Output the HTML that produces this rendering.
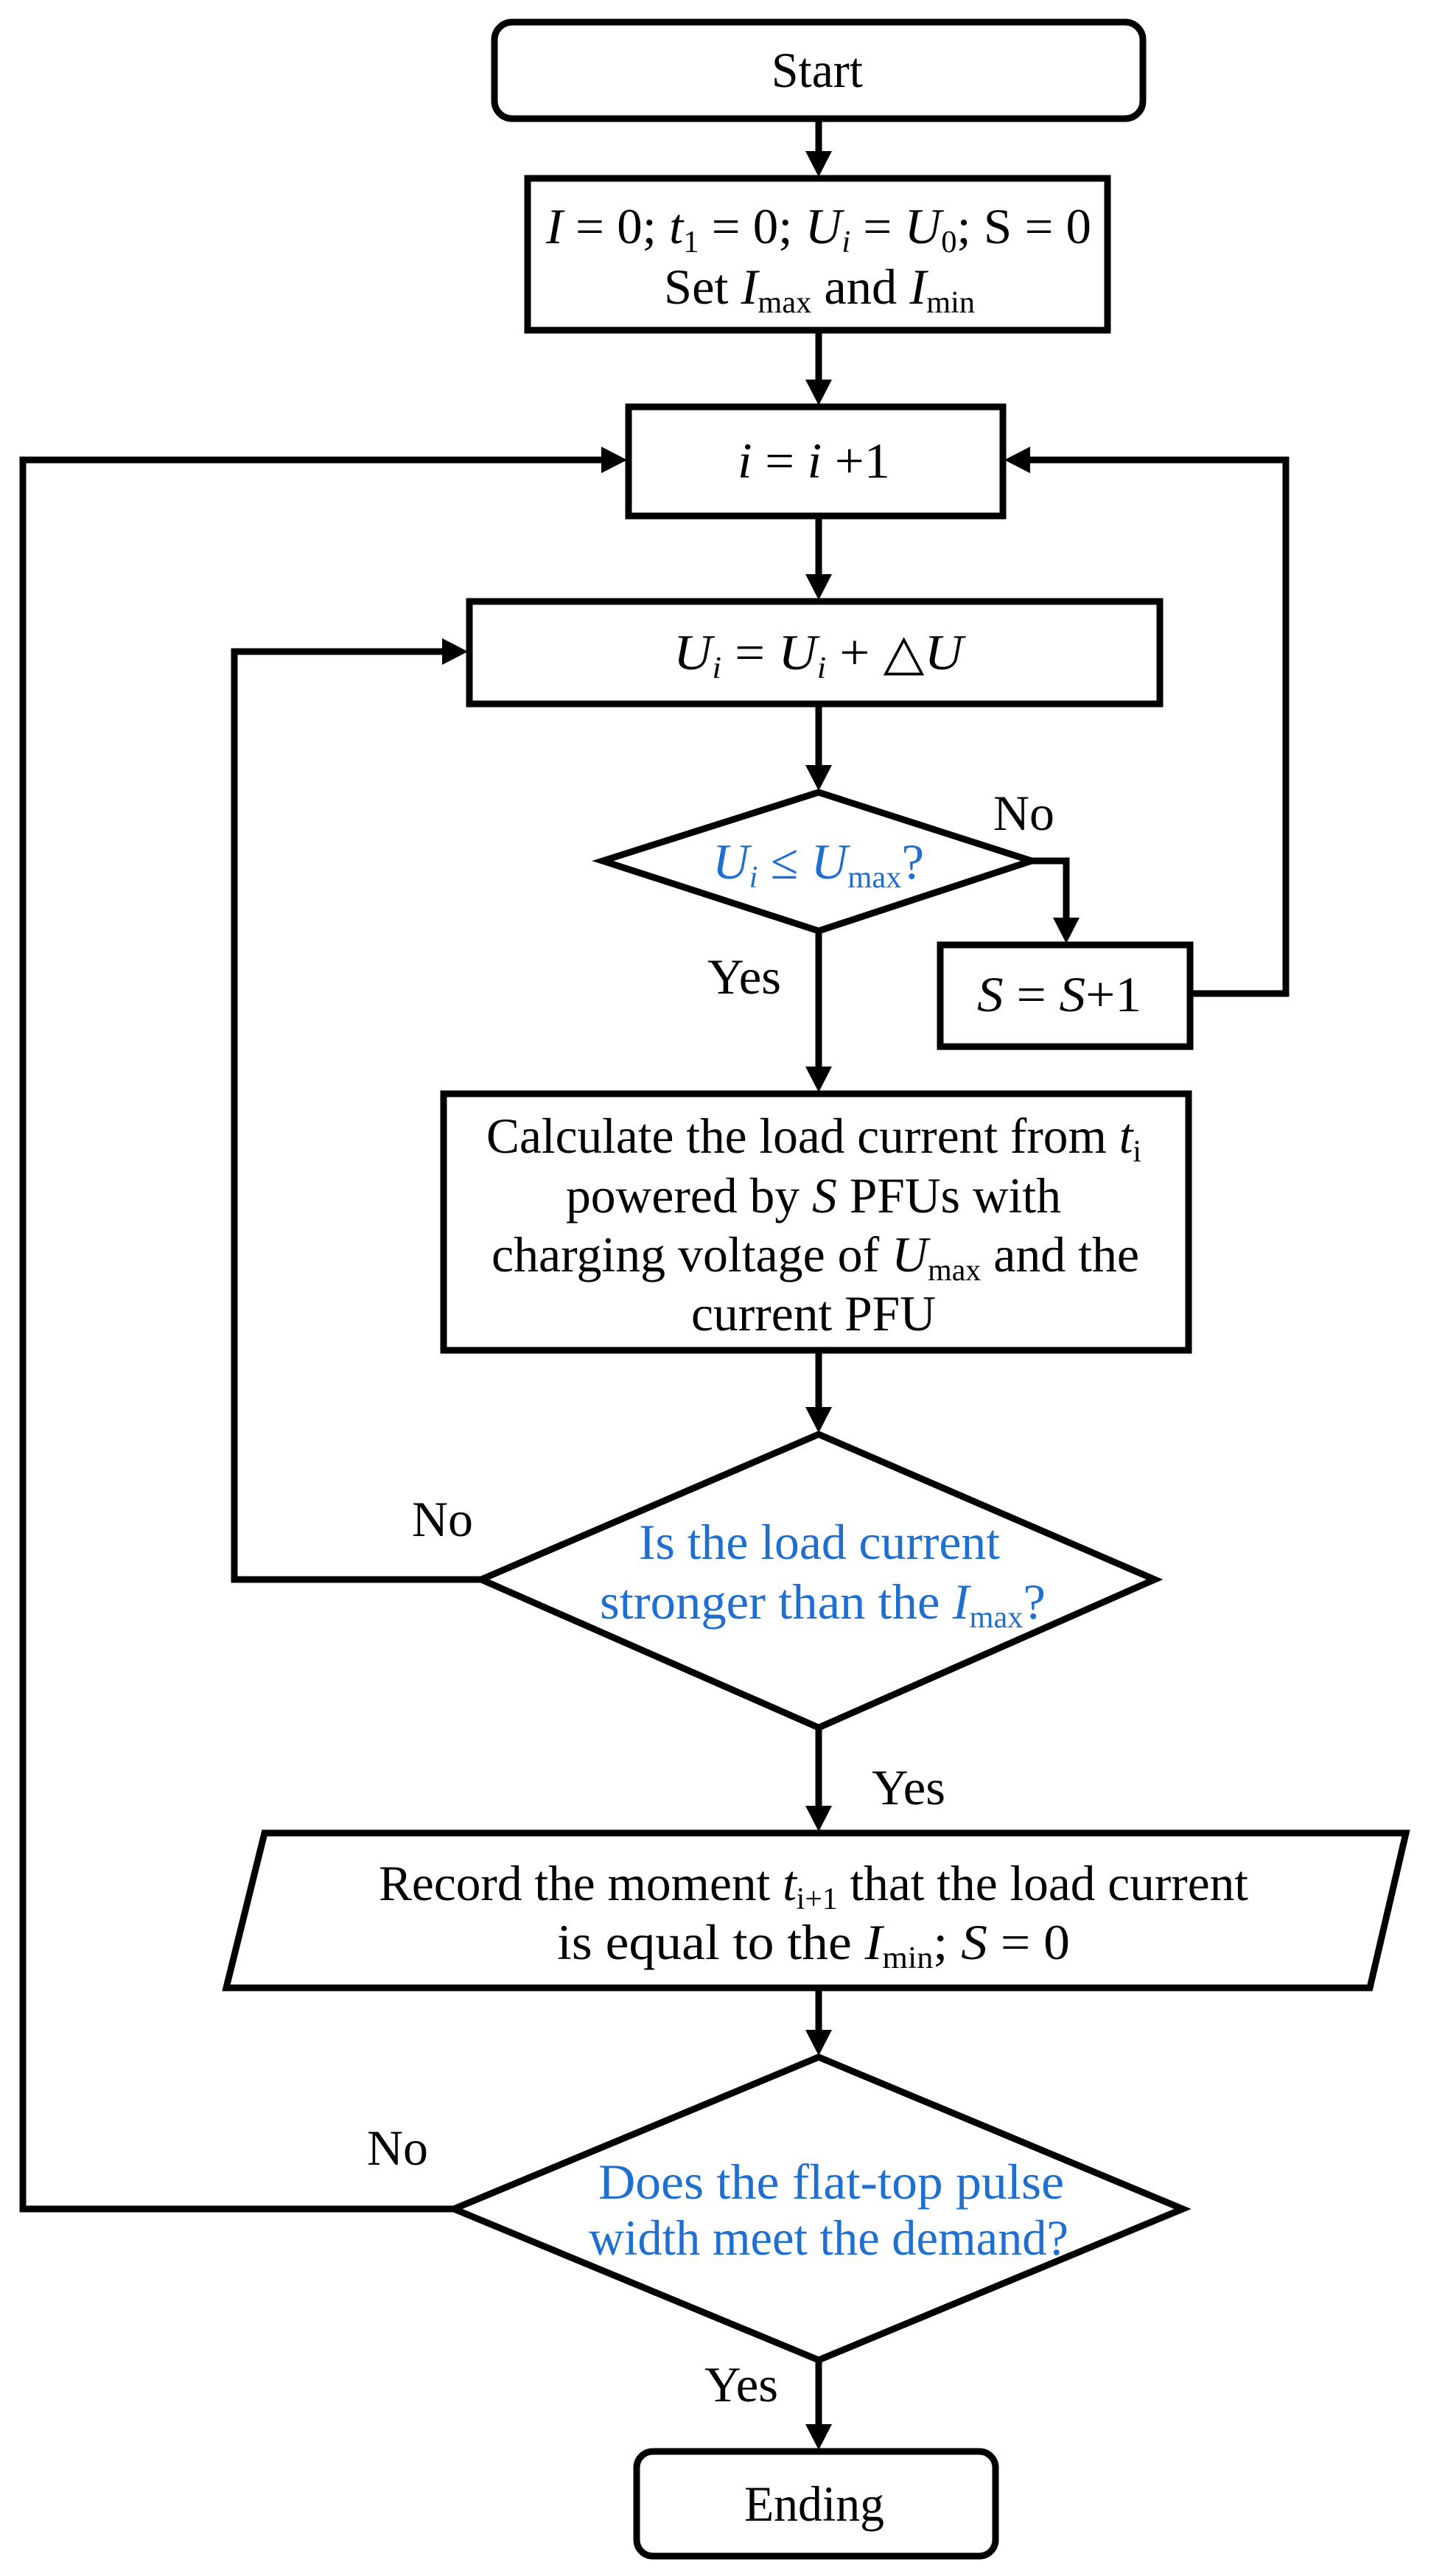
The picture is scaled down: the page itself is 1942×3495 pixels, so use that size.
<!DOCTYPE html>
<html><head><meta charset="utf-8"><style>
html,body{margin:0;padding:0;background:#fff;}
svg{display:block;}
text{font-family:"Liberation Serif","Times New Roman",serif;font-size:68px;fill:#000;}
.b{fill:#1f6fd0;}
.i{font-style:italic;}
</style></head><body>
<svg width="1942" height="3495" viewBox="0 0 1942 3495" xmlns="http://www.w3.org/2000/svg">
<g fill="none" stroke="#000" stroke-width="9" stroke-linejoin="miter">
<rect x="671" y="30" width="880" height="131" rx="24"/>
<rect x="716" y="242" width="787" height="206"/>
<rect x="853" y="552" width="508" height="148"/>
<rect x="637" y="816" width="937" height="139"/>
<polygon points="1111,1075 1400,1168 1111,1263 818,1168"/>
<rect x="1276" y="1282" width="339" height="138"/>
<rect x="602" y="1484" width="1011" height="348"/>
<polygon points="1111,1946 1567,2143 1111,2344 653,2143"/>
<polygon points="359,2487 1908,2487 1859,2697 307,2697"/>
<polygon points="1111,2791 1605,2997 1111,3202 616,2997"/>
<rect x="864" y="3326" width="487" height="142" rx="22"/>
<line x1="1111" y1="161" x2="1111" y2="210"/>
<line x1="1111" y1="448" x2="1111" y2="520"/>
<line x1="1111" y1="700" x2="1111" y2="784"/>
<line x1="1111" y1="955" x2="1111" y2="1043"/>
<polyline points="1400,1168 1447,1168 1447,1250"/>
<polyline points="1615,1348 1745,1348 1745,624 1395,624"/>
<line x1="1111" y1="1263" x2="1111" y2="1452"/>
<line x1="1111" y1="1832" x2="1111" y2="1914"/>
<polyline points="653,2143 318,2143 318,884 605,884"/>
<line x1="1111" y1="2344" x2="1111" y2="2455"/>
<line x1="1111" y1="2697" x2="1111" y2="2759"/>
<polyline points="616,2997 31,2997 31,624 821,624"/>
<line x1="1111" y1="3202" x2="1111" y2="3294"/>
</g>
<g fill="#000">
<polygon points="1093,205 1129,205 1111,240"/>
<polygon points="1093,515 1129,515 1111,550"/>
<polygon points="1093,779 1129,779 1111,814"/>
<polygon points="1093,1038 1129,1038 1111,1073"/>
<polygon points="1429,1245 1465,1245 1447,1280"/>
<polygon points="1398,606 1398,642 1363,624"/>
<polygon points="1093,1447 1129,1447 1111,1482"/>
<polygon points="1093,1909 1129,1909 1111,1944"/>
<polygon points="600,866 600,902 635,884"/>
<polygon points="1093,2450 1129,2450 1111,2485"/>
<polygon points="1093,2754 1129,2754 1111,2789"/>
<polygon points="816,606 816,642 851,624"/>
<polygon points="1093,3289 1129,3289 1111,3324"/>
</g>
<text x="1047" y="118" textLength="124" lengthAdjust="spacingAndGlyphs">Start</text>
<text x="741" y="330" textLength="740" lengthAdjust="spacingAndGlyphs"><tspan class="i">I</tspan> = 0; <tspan class="i">t</tspan><tspan font-size="42" dy="12">1</tspan><tspan dy="-12"> = 0; </tspan><tspan class="i">U<tspan font-size="42" dy="12">i</tspan></tspan><tspan dy="-12"> = </tspan><tspan class="i">U</tspan><tspan font-size="42" dy="12">0</tspan><tspan dy="-12">; S = 0</tspan></text>
<text x="901" y="412" textLength="422" lengthAdjust="spacingAndGlyphs">Set <tspan class="i">I</tspan><tspan font-size="42" dy="12">max</tspan><tspan dy="-12"> and </tspan><tspan class="i">I</tspan><tspan font-size="42" dy="12">min</tspan></text>
<text x="1001" y="648" textLength="207" lengthAdjust="spacingAndGlyphs"><tspan class="i">i</tspan> = <tspan class="i">i</tspan> +1</text>
<text x="914" y="908" textLength="393" lengthAdjust="spacingAndGlyphs"><tspan class="i">U<tspan font-size="42" dy="12">i</tspan></tspan><tspan dy="-12"> = </tspan><tspan class="i">U<tspan font-size="42" dy="12">i</tspan></tspan><tspan dy="-12"> + △</tspan><tspan class="i">U</tspan></text>
<text class="b" x="967" y="1192" textLength="287" lengthAdjust="spacingAndGlyphs"><tspan class="i">U<tspan font-size="42" dy="12">i</tspan></tspan><tspan dy="-12"> ≤ </tspan><tspan class="i">U</tspan><tspan font-size="42" dy="12">max</tspan><tspan dy="-12">?</tspan></text>
<text x="1348" y="1126" textLength="83" lengthAdjust="spacingAndGlyphs">No</text>
<text x="1326" y="1372" textLength="223" lengthAdjust="spacingAndGlyphs"><tspan class="i">S</tspan> = <tspan class="i">S</tspan>+1</text>
<text x="960" y="1348" textLength="100" lengthAdjust="spacingAndGlyphs">Yes</text>
<text x="660" y="1564" textLength="889" lengthAdjust="spacingAndGlyphs">Calculate the load current from <tspan class="i">t</tspan><tspan font-size="42" dy="12">i</tspan></text>
<text x="768" y="1645" textLength="672" lengthAdjust="spacingAndGlyphs">powered by <tspan class="i">S</tspan> PFUs with</text>
<text x="667" y="1725" textLength="879" lengthAdjust="spacingAndGlyphs">charging voltage of <tspan class="i">U</tspan><tspan font-size="42" dy="12">max</tspan><tspan dy="-12"> and the</tspan></text>
<text x="938" y="1805" textLength="332" lengthAdjust="spacingAndGlyphs">current PFU</text>
<text x="559" y="2084" textLength="83" lengthAdjust="spacingAndGlyphs">No</text>
<text class="b" x="867" y="2115" textLength="490" lengthAdjust="spacingAndGlyphs">Is the load current</text>
<text class="b" x="814" y="2196" textLength="605" lengthAdjust="spacingAndGlyphs">stronger than the <tspan class="i">I</tspan><tspan font-size="42" dy="12">max</tspan><tspan dy="-12">?</tspan></text>
<text x="1183" y="2448" textLength="100" lengthAdjust="spacingAndGlyphs">Yes</text>
<text x="514" y="2578" textLength="1180" lengthAdjust="spacingAndGlyphs">Record the moment <tspan class="i">t</tspan><tspan font-size="42" dy="12">i+1</tspan><tspan dy="-12"> that the load current</tspan></text>
<text x="756" y="2658" textLength="696" lengthAdjust="spacingAndGlyphs">is equal to the <tspan class="i">I</tspan><tspan font-size="42" dy="12">min</tspan><tspan dy="-12">;   </tspan><tspan class="i">S</tspan> = 0</text>
<text x="498" y="2937" textLength="83" lengthAdjust="spacingAndGlyphs">No</text>
<text class="b" x="812" y="2983" textLength="632" lengthAdjust="spacingAndGlyphs">Does  the flat-top pulse</text>
<text class="b" x="799" y="3059" textLength="651" lengthAdjust="spacingAndGlyphs">width meet the demand?</text>
<text x="956" y="3258" textLength="100" lengthAdjust="spacingAndGlyphs">Yes</text>
<text x="1010" y="3420" textLength="190" lengthAdjust="spacingAndGlyphs">Ending</text>
</svg>
</body></html>
